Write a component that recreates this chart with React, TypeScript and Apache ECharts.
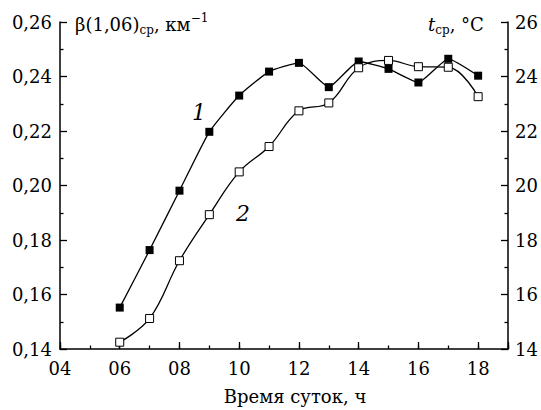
import React, { useEffect, useRef } from "react";
import * as echarts from "echarts";

const hours = [6, 7, 8, 9, 10, 11, 12, 13, 14, 15, 16, 17, 18];
const beta = [0.1552, 0.1763, 0.1981, 0.2197, 0.233, 0.2418, 0.245, 0.2361, 0.2455, 0.2428, 0.2378, 0.2465, 0.2403];
const temp = [14.25, 15.12, 17.24, 18.93, 20.5, 21.43, 22.74, 23.03, 24.32, 24.59, 24.36, 24.34, 23.26];

const FONT = "DejaVu Serif";

export default function App() {
  const ref = useRef<HTMLDivElement>(null);
  useEffect(() => {
    if (!ref.current) return;
    const chart = echarts.init(ref.current, null, { renderer: "svg" });
    const axisLine = { show: true, lineStyle: { color: "#000", width: 1.5 } };
    chart.setOption({
      animation: false,
      backgroundColor: "#fff",
      grid: { left: 60, right: 33, top: 22, bottom: 58, containLabel: false },
      xAxis: [
        {
          type: "value",
          min: 4,
          max: 19,
          interval: 2,
          position: "bottom",
          axisLine,
          axisTick: { show: true, inside: true, length: 7, lineStyle: { color: "#000", width: 1.3 } },
          axisLabel: {
            color: "#000",
            fontFamily: FONT,
            fontSize: 18,
            margin: 10,
            formatter: (v: number) => (v === 19 ? "" : String(v).padStart(2, "0")),
          },
          splitLine: { show: false },
          name: "Время суток, ч",
          nameLocation: "middle",
          nameGap: 38,
          nameTextStyle: { color: "#000", fontFamily: FONT, fontSize: 18, padding: [0, 0, 0, 22] },
        },
        {
          type: "value",
          min: 4,
          max: 19,
          interval: 1,
          position: "bottom",
          axisLine: { show: false },
          axisTick: { show: true, inside: true, length: 3.5, lineStyle: { color: "#000", width: 1.3 } },
          axisLabel: { show: false },
          splitLine: { show: false },
        },
      ],
      yAxis: [
        {
          type: "value",
          min: 0.14,
          max: 0.26,
          interval: 0.02,
          position: "left",
          axisLine,
          axisTick: { show: true, inside: true, length: 7, lineStyle: { color: "#000", width: 1.3 } },
          minorTick: { show: true, splitNumber: 2, length: 3.5, lineStyle: { color: "#000", width: 1.3 } },
          axisLabel: {
            color: "#000",
            fontFamily: FONT,
            fontSize: 18,
            margin: 8,
            formatter: (v: number) => v.toFixed(2).replace(".", ","),
          },
          splitLine: { show: false },
          minorSplitLine: { show: false },
        },
        {
          type: "value",
          min: 14,
          max: 26,
          interval: 2,
          position: "right",
          axisLine,
          axisTick: { show: true, inside: true, length: 7, lineStyle: { color: "#000", width: 1.3 } },
          minorTick: { show: true, splitNumber: 2, length: 3.5, lineStyle: { color: "#000", width: 1.3 } },
          axisLabel: { color: "#000", fontFamily: FONT, fontSize: 18, margin: 7 },
          splitLine: { show: false },
          minorSplitLine: { show: false },
        },
      ],
      series: [
        {
          type: "line",
          xAxisIndex: 0,
          yAxisIndex: 0,
          data: hours.map((h, i) => [h, beta[i]]),
          smooth: 0.15,
          symbol: "rect",
          symbolSize: 8,
          itemStyle: { color: "#000" },
          lineStyle: { color: "#000", width: 1.3 },
          z: 2,
        },
        {
          type: "line",
          xAxisIndex: 0,
          yAxisIndex: 1,
          data: hours.map((h, i) => [h, temp[i]]),
          smooth: 0.4,
          symbol: "rect",
          symbolSize: 8,
          showAllSymbol: true,
          itemStyle: { color: "#fff", borderColor: "#000", borderWidth: 1 },
          lineStyle: { color: "#000", width: 1.3 },
          z: 3,
        },
      ],
      graphic: [
        {
          type: "text",
          left: 75,
          top: 12,
          style: {
            text: "β(1,06){sub|ср}, км{sup|−1}",
            fill: "#000",
            font: `18px "${FONT}"`,
            lineHeight: 24,
            rich: {
              sub: { fontFamily: FONT, fontSize: 12, lineHeight: 14, verticalAlign: "bottom", fill: "#000" },
              sup: { fontFamily: FONT, fontSize: 12, lineHeight: 14, verticalAlign: "top", fill: "#000" },
            },
          },
        },
        {
          type: "text",
          left: 428,
          top: 12,
          style: {
            text: "{it|t}{sub|ср}, °C",
            fill: "#000",
            font: `18px "${FONT}"`,
            lineHeight: 24,
            rich: {
              it: { fontFamily: FONT, fontStyle: "italic", fontSize: 18, lineHeight: 24, fill: "#000" },
              sub: { fontFamily: FONT, fontSize: 12, lineHeight: 14, verticalAlign: "bottom", fill: "#000" },
            },
          },
        },
        {
          type: "text",
          x: 199,
          y: 112,
          style: {
            text: "1",
            fill: "#000",
            font: `italic 22px "${FONT}"`,
            align: "center",
            verticalAlign: "middle",
          },
        },
        {
          type: "text",
          x: 243,
          y: 213,
          style: {
            text: "2",
            fill: "#000",
            font: `italic 22px "${FONT}"`,
            align: "center",
            verticalAlign: "middle",
          },
        },
      ],
    });
    return () => chart.dispose();
  }, []);
  return <div ref={ref} style={{ width: 541, height: 410, position: "absolute", left: 0, top: 0 }} />;
}
